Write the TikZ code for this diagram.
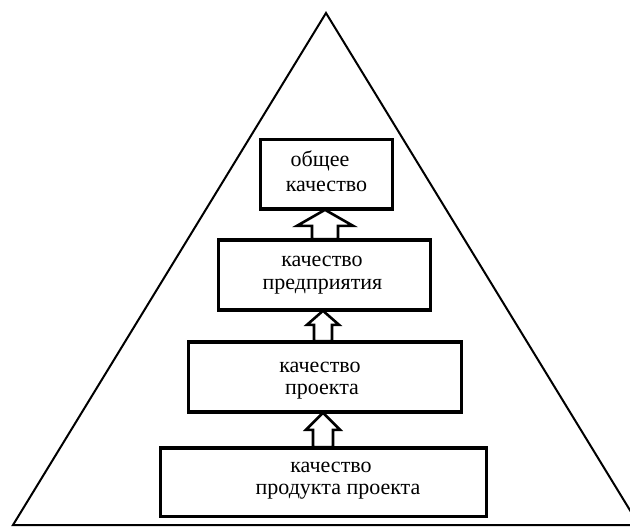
\documentclass[tikz,border=0pt]{standalone}
\usepackage{fontspec}
\setmainfont{Liberation Serif}
\usetikzlibrary{calc}
\begin{document}
\begin{tikzpicture}[x=1pt,y=-1pt,
  box/.style={draw,line width=2.6pt,rectangle,inner sep=0pt,minimum height=69pt},
  txt/.style={inner sep=0pt,anchor=base,font=\fontsize{22}{24}\selectfont},
  blockarrow/.style={draw,line width=2.6pt,fill=white,line join=miter}]
\useasboundingbox (0,0) rectangle (630,527);
\clip (0,0) rectangle (630,527);
% pyramid
\coordinate (apex) at (326,13);
\coordinate (bl) at (13,525);
\coordinate (br) at (639,525);
\draw[line width=2pt,line join=miter] (bl) -- (apex) -- (br) -- cycle;
% boxes
\node[box,minimum width=132pt] (b1) at (326.5,174) {};
\node[box,minimum width=212pt] (b2) at (324.5,275) {};
\node[box,minimum width=273pt] (b3) at (325,377) {};
\node[box,minimum width=326pt,minimum height=68pt] (b4) at (323.5,482.5) {};
% texts
\node[txt] (t1a) at (320,167) {общее};
\node[txt] (t1b) at (326.5,191) {качество};
\node[txt] (t2a) at (322,266) {качество};
\node[txt] (t2b) at (322.5,289) {предприятия};
\node[txt] (t3a) at (320,372) {качество};
\node[txt] (t3b) at (322,394) {проекта};
\node[txt] (t4a) at (331,472) {качество};
\node[txt] (t4b) at (338,494) {продукта проекта};
% block arrows
\draw[blockarrow] let \p1=(b1.south), \p2=(b2.north) in
  (\x1-1.5,\y2) -- (\x1-1.5-13,\y2) -- (\x1-1.5-13,\y1-16) -- (\x1-1.5-28,\y1-16)
  -- (\x1-1.5,\y1) -- (\x1-1.5+28,\y1-16) -- (\x1-1.5+13,\y1-16) -- (\x1-1.5+13,\y2) -- cycle;
\draw[blockarrow] let \p1=(b2.south), \p2=(b3.north) in
  (\x1-1.5,\y2) -- (\x1-1.5-9,\y2) -- (\x1-1.5-9,\y1-14) -- (\x1-1.5-16,\y1-14)
  -- (\x1-1.5,\y1) -- (\x1-1.5+16,\y1-14) -- (\x1-1.5+9,\y1-14) -- (\x1-1.5+9,\y2) -- cycle;
\draw[blockarrow] let \p1=(b3.south), \p2=(b4.north) in
  (\x1-2,\y2) -- (\x1-2-10,\y2) -- (\x1-2-10,\y1-17) -- (\x1-2-17,\y1-17)
  -- (\x1-2,\y1) -- (\x1-2+17,\y1-17) -- (\x1-2+10,\y1-17) -- (\x1-2+10,\y2) -- cycle;
% redraw box borders over arrow ends
\draw[line width=2.6pt] (b1.south west) -- (b1.south east);
\draw[line width=2.6pt] (b2.north west) -- (b2.north east);
\draw[line width=2.6pt] (b2.south west) -- (b2.south east);
\draw[line width=2.6pt] (b3.north west) -- (b3.north east);
\draw[line width=2.6pt] (b3.south west) -- (b3.south east);
\draw[line width=2.6pt] (b4.north west) -- (b4.north east);
\end{tikzpicture}
\end{document}
